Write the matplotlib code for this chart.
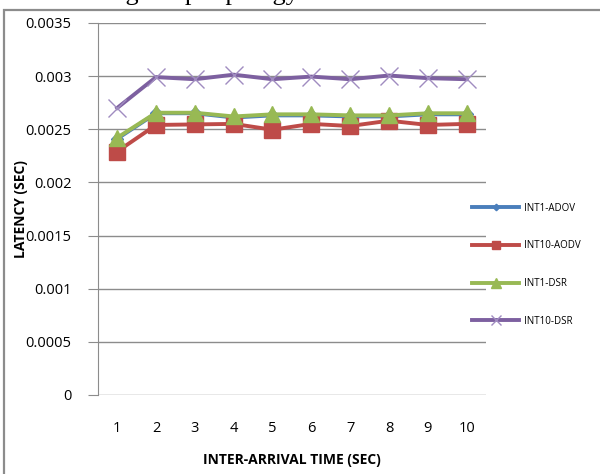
import matplotlib
matplotlib.use("Agg")
import matplotlib.pyplot as plt
from matplotlib.patches import Rectangle

x = [1, 2, 3, 4, 5, 6, 7, 8, 9, 10]
int1_aodv = [0.00241, 0.00265, 0.00265, 0.00261, 0.00263, 0.00263, 0.00262, 0.00262, 0.00264, 0.00264]
int10_aodv = [0.00229, 0.00254, 0.002545, 0.00255, 0.002495, 0.00255, 0.00253, 0.00258, 0.00254, 0.00255]
int1_dsr = [0.00242, 0.002655, 0.002655, 0.00262, 0.00264, 0.00264, 0.00263, 0.00263, 0.00265, 0.00265]
int10_dsr = [0.0027, 0.00299, 0.00297, 0.003013, 0.00297, 0.002995, 0.00297, 0.003005, 0.00298, 0.00297]
yticks = [0, 0.0005, 0.001, 0.0015, 0.002, 0.0025, 0.003, 0.0035]
ytick_labels = ["0", "0.0005", "0.001", "0.0015", "0.002", "0.0025", "0.003", "0.0035"]

plt.rcParams['font.family'] = ['Open Sans', 'DejaVu Sans']

fig = plt.figure(figsize=(6.0, 4.74), dpi=100)

# caption text cut off at the top of the crop
fig.text(-0.005, 0.999, "e considering 2hop topology.", family="Liberation Serif",
         fontsize=19, ha="left", va="baseline")
# grey frame around the chart
fig.patches.append(Rectangle((0.006, -0.05), 1.2, 1.029, transform=fig.transFigure,
                             fill=False, edgecolor="#8c8c8c", linewidth=1.6))

ax = fig.add_axes([0.163, 0.1667, 0.647, 0.785])

ax.plot(x, int1_aodv, color="#4a7ebb", lw=2.8, marker="D", ms=6, label="INT1-ADOV")
ax.plot(x, int10_aodv, color="#be4b48", lw=2.8, marker="s", ms=11, label="INT10-AODV")
ax.plot(x, int1_dsr, color="#98b954", lw=2.8, marker="^", ms=12, label="INT1-DSR")
ax.plot(x, int10_dsr, color="#7d60a0", lw=2.8, marker="x", ms=13, mew=1.0,
        markeredgecolor="#a08cc0", label="INT10-DSR")

ax.set_xlim(0.5, 10.5)
ax.set_ylim(0, 0.0035)
ax.set_yticks(yticks)
ax.set_yticklabels(ytick_labels)
ax.set_xticks(x)
ax.grid(axis="y", color="#8c8c8c", lw=1)
ax.set_axisbelow(True)
for s in ["top", "right", "bottom"]:
    ax.spines[s].set_visible(False)
ax.spines["left"].set_color("#8c8c8c")
ax.tick_params(axis="y", length=7, color="#8c8c8c", labelsize=10.5, pad=12)
ax.tick_params(axis="x", length=0, labelsize=10.5, pad=19)

ax.set_xlabel("INTER-ARRIVAL TIME (SEC)", fontsize=10, fontweight="bold", labelpad=12)
ax.set_ylabel("LATENCY (SEC)", fontsize=10, fontweight="bold")
ax.yaxis.set_label_coords(-0.18, 0.5)

ax.legend(loc="center left", bbox_to_anchor=(0.955, 0.35), frameon=False,
          fontsize=7, handlelength=4.8, labelspacing=2.75, handletextpad=0.5,
          borderaxespad=0, markerscale=0.55)

fig.savefig("out.png", dpi=100)
